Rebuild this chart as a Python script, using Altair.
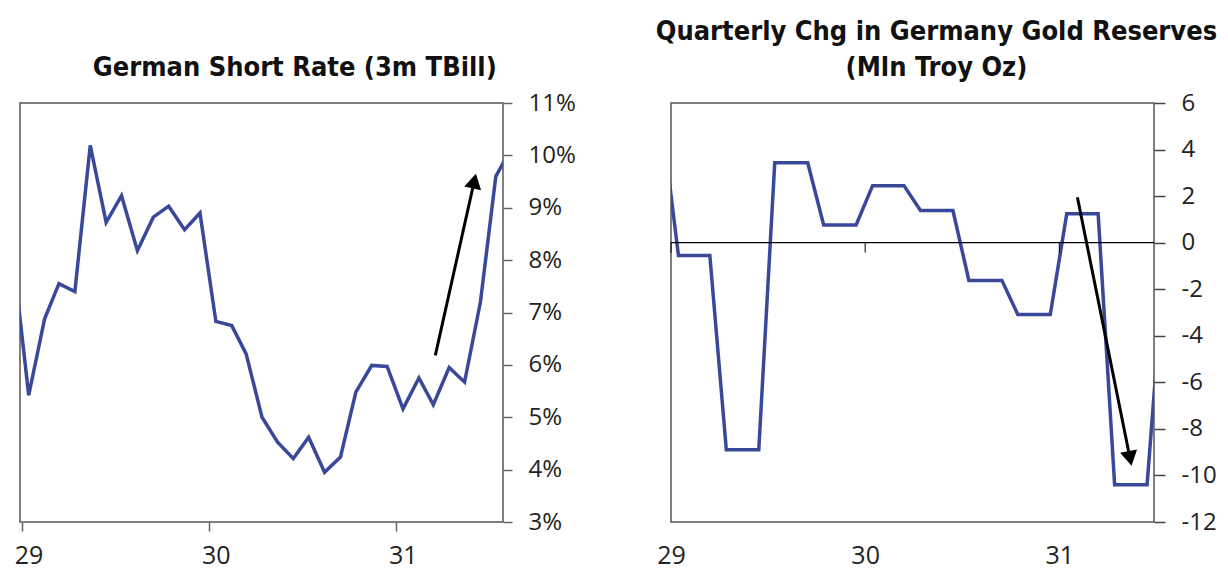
import altair as alt
import pandas as pd

# ---------------- data ----------------
# German short rate (3m T-bill), % – monthly (first and last points lie just outside the frame)
rate_dates = [
    "1928-12-15",
    "1929-01-15", "1929-02-15", "1929-03-15", "1929-04-15", "1929-05-15", "1929-06-15",
    "1929-07-15", "1929-08-15", "1929-09-15", "1929-10-15", "1929-11-15", "1929-12-15",
    "1930-01-15", "1930-02-15", "1930-03-15", "1930-04-15", "1930-05-15", "1930-06-15",
    "1930-07-15", "1930-08-15", "1930-09-15", "1930-10-15", "1930-11-15", "1930-12-15",
    "1931-01-15", "1931-02-15", "1931-03-15", "1931-04-15", "1931-05-15", "1931-06-15",
    "1931-07-15", "1931-08-15",
]
rate_values = [
    8.1,
    5.42, 6.88, 7.55, 7.40, 10.19, 8.72,
    9.23, 8.18, 8.82, 9.03, 8.58, 8.90,
    6.83, 6.75, 6.21, 5.00, 4.53, 4.21,
    4.62, 3.95, 4.24, 5.48, 5.99, 5.97,
    5.16, 5.75, 5.24, 5.95, 5.67, 7.20,
    9.60, 10.15,
]

# Quarterly change in German gold reserves (mln troy oz), shown monthly
gold_dates = [
    "1928-12-15",
    "1929-01-15", "1929-02-15", "1929-03-15", "1929-04-15", "1929-05-15", "1929-06-15",
    "1929-07-15", "1929-08-15", "1929-09-15", "1929-10-15", "1929-11-15", "1929-12-15",
    "1930-01-15", "1930-02-15", "1930-03-15", "1930-04-15", "1930-05-15", "1930-06-15",
    "1930-07-15", "1930-08-15", "1930-09-15", "1930-10-15", "1930-11-15", "1930-12-15",
    "1931-01-15", "1931-02-15", "1931-03-15", "1931-04-15", "1931-05-15", "1931-06-15",
    "1931-07-15",
]
gold_values = [
    5.2,
    -0.55, -0.55, -0.55, -8.9, -8.9, -8.9,
    3.43, 3.43, 3.43, 0.76, 0.76, 0.76,
    2.45, 2.45, 2.45, 1.38, 1.38, 1.38,
    -1.62, -1.62, -1.62, -3.09, -3.09, -3.09,
    1.24, 1.24, 1.24, -10.4, -10.4, -10.4,
    -1.5,
]

# annotation arrows: start and head
rate_arrow_dates = ["1931-03-19", "1931-06-03"]
rate_arrow_values = [6.18, 9.51]
gold_arrow_dates = ["1931-02-04", "1931-05-14"]
gold_arrow_values = [1.95, -9.27]

rate_ticks = [3, 4, 5, 6, 7, 8, 9, 10, 11]
gold_ticks = [-12, -10, -8, -6, -4, -2, 0, 2, 4, 6]
year_tick_dates = ["1929-01-01", "1930-01-01", "1931-01-01"]
zero_level = [0]

# ---------------- styling ----------------
LINE_COLOR = "#3a4899"
LABEL_FONT = "Open Sans"
TITLE_FONT = "'Liberation Sans Narrow', 'DejaVu Sans Condensed', sans-serif"
TITLE_SIZE = 27
W, H = 483, 419

rate_df = pd.DataFrame({"date": rate_dates, "value": rate_values})
gold_df = pd.DataFrame({"date": gold_dates, "value": gold_values})
rate_arrow = pd.DataFrame({
    "date": [rate_arrow_dates[0]], "value": [rate_arrow_values[0]],
    "date2": [rate_arrow_dates[1]], "value2": [rate_arrow_values[1]],
})
gold_arrow = pd.DataFrame({
    "date": [gold_arrow_dates[0]], "value": [gold_arrow_values[0]],
    "date2": [gold_arrow_dates[1]], "value2": [gold_arrow_values[1]],
})
zero_df = pd.DataFrame({"value": zero_level})
zero_ticks_df = pd.DataFrame({"date": year_tick_dates, "value": zero_level * len(year_tick_dates)})

year_values = [alt.DateTime(year=int(d[:4]), month=1, date=1, utc=True) for d in year_tick_dates]


def x_scale(d0, d1):
    return alt.Scale(type="utc", domain=[alt.DateTime(year=d0[0], month=d0[1], date=d0[2], utc=True),
                                          alt.DateTime(year=d1[0], month=d1[1], date=d1[2], utc=True)])


label_axis_common = dict(title=None, grid=False, domain=False,
                         labelExpr="utcFormat(datum.value, '%y')",
                         values=year_values, labelFont=LABEL_FONT, labelFontSize=25,
                         labelColor="#222", labelFlush=False)

# ---------- left chart ----------
xs_left = x_scale((1928, 12, 29), (1931, 7, 29))
left_x = alt.X("date:T", scale=xs_left,
               axis=alt.Axis(ticks=True, tickSize=9, tickColor="#666", tickWidth=1.5,
                             labelPadding=12, labelOffset=7, **label_axis_common))
left_y = alt.Y("value:Q", scale=alt.Scale(domain=[3, 11], nice=False),
               axis=alt.Axis(orient="right", title=None, grid=False, domain=False,
                             values=rate_ticks, labelExpr="datum.value + '%'",
                             tickSize=9, tickColor="#666", tickWidth=1.5,
                             labelPadding=16, labelFont=LABEL_FONT, labelFontSize=24,
                             labelColor="#222"))

left_line = alt.Chart(rate_df).mark_line(color=LINE_COLOR, strokeWidth=3.5, clip=True).encode(
    x=left_x, y=left_y)
left_arrow = alt.Chart(rate_arrow).mark_rule(color="black", strokeWidth=3).encode(
    x=left_x, y=left_y, x2="date2:T", y2="value2:Q")
left_head = alt.Chart(rate_arrow).mark_point(
    shape="triangle-up", filled=True, size=300, color="black", opacity=1, angle=12.5
).encode(x=alt.X("date2:T"), y=alt.Y("value2:Q"))

left = alt.layer(left_line, left_arrow, left_head).properties(
    width=W, height=H,
    title=alt.TitleParams("German Short Rate (3m TBill)", font=TITLE_FONT, fontSize=TITLE_SIZE,
                          fontWeight="bold", color="#111", anchor="middle", frame="bounds",
                          offset=9),
)

# ---------- right chart ----------
xs_right = x_scale((1929, 1, 1), (1931, 6, 28))
right_x = alt.X("date:T", scale=xs_right,
                axis=alt.Axis(ticks=False, labelPadding=21, **label_axis_common))
right_y = alt.Y("value:Q", scale=alt.Scale(domain=[-12, 6], nice=False),
                axis=alt.Axis(orient="right", title=None, grid=False, domain=False,
                              values=gold_ticks, labelExpr="'' + datum.value",
                              tickSize=11, tickColor="#444", tickWidth=1.5,
                              labelPadding=16, labelFont=LABEL_FONT, labelFontSize=24,
                              labelColor="#222"))

right_zero = alt.Chart(zero_df).mark_rule(color="black", strokeWidth=1.2).encode(y="value:Q")
right_zero_ticks = alt.Chart(zero_ticks_df).mark_rule(
    color="black", strokeWidth=1, y2Offset=10
).encode(x="date:T", y="value:Q", y2="value:Q")
right_line = alt.Chart(gold_df).mark_line(color=LINE_COLOR, strokeWidth=3.5, clip=True).encode(
    x=right_x, y=right_y)
right_arrow = alt.Chart(gold_arrow).mark_rule(color="black", strokeWidth=3).encode(
    x="date:T", y="value:Q", x2="date2:T", y2="value2:Q")
right_head = alt.Chart(gold_arrow).mark_point(
    shape="triangle-up", filled=True, size=300, color="black", opacity=1, angle=168.6
).encode(x="date2:T", y="value2:Q")

right = alt.layer(right_line, right_zero, right_zero_ticks, right_arrow, right_head).properties(
    width=W, height=H,
    title=alt.TitleParams(["Quarterly Chg in Germany Gold Reserves", "(Mln Troy Oz)"],
                          font=TITLE_FONT, fontSize=TITLE_SIZE, lineHeight=36,
                          fontWeight="bold", color="#111", anchor="middle", frame="bounds",
                          offset=9),
)

chart = alt.hconcat(left, right, spacing=168, bounds="flush").properties(
    padding={"left": 5, "top": 9, "right": 0, "bottom": 0}
).configure_view(stroke="#555", strokeWidth=1.5)

chart.save("out.html", embed_options={"renderer": "svg", "actions": False})
